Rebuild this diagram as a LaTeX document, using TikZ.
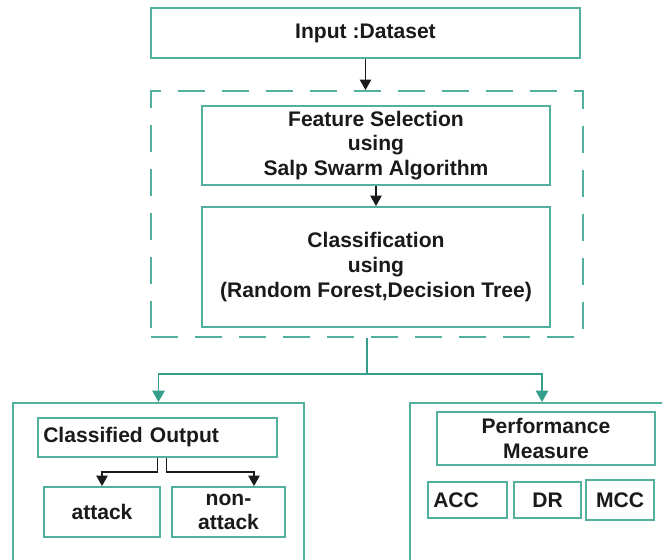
\documentclass[tikz,border=0pt]{standalone}
\usepackage{fontspec}
\setmainfont{Liberation Sans}
\usetikzlibrary{arrows.meta}

\definecolor{boxteal}{RGB}{84,176,158}
\definecolor{arrowteal}{RGB}{52,160,140}
\definecolor{inkgray}{RGB}{26,26,26}

\tikzset{
	box/.style={draw=boxteal, line width=1.1pt, inner sep=3pt,
		align=center, text=inkgray,
		font=\fontsize{12}{14}\selectfont\bfseries},
	groupbox/.style={draw=boxteal, line width=1.1pt,
		dash pattern=on 0.54cm off 0.34cm},
	blackarrow/.style={draw=inkgray, line width=0.9pt,
		-{Triangle[length=6pt,width=6.5pt]}},
	tealline/.style={draw=arrowteal, line width=1.1pt},
	tealarrow/.style={tealline, -{Triangle[length=6.5pt,width=7pt]}}
}

\begin{document}
\begin{tikzpicture}[x=0.02cm, y=-0.02cm]
		
		\clip (0,0) rectangle (662,559);
		
		% Input
		\node [box,
		minimum width=8.58cm,
		minimum height=1cm] (input) at (365.5,33) {Input :Dataset};
		
		% Dashed group
		\node [groupbox,
		minimum width=8.64cm,
		minimum height=4.92cm] (group) at (367,214) {};
		
		\node [box,
		minimum width=6.96cm,
		minimum height=1.5cm] (select) at (376,145.5) {Feature Selection\\using\\Salp Swarm Algorithm};
		
		\node [box,
		minimum width=6.96cm,
		minimum height=2.4cm] (classify) at (376,267) {Classification\\using\\(Random Forest,Decision Tree)};
		
		\draw [blackarrow] (input.south) -- (input.south |- group.north);
		
		\draw [blackarrow] (select.south) -- (classify.north);
		
		% Output side
		\node [box,
		minimum width=5.82cm,
		minimum height=3.74cm] (outleft) at (158.5,496.5) {};
		
		\node [box,
		minimum width=5.28cm,
		minimum height=3.74cm] (outright) at (542,496.5) {};
		
		\coordinate (fork) at ([yshift=-0.72cm]group.south);
		
		\draw [tealline] (group.south) -- (fork);
		\draw [tealarrow] (fork) -| (outleft.north);
		\draw [tealarrow] (fork) -| (outright.north);
		
		% Classified output
		\node [box,
		text width=4.57cm,
		align=left,
		minimum height=0.78cm] (classout) at (157.5,437.5) {Classified Output};
		
		\node [box,
		minimum width=2.32cm,
		minimum height=1cm] (attack) at (102,512) {attack};
		
		\node [box,
		minimum width=2.26cm,
		minimum height=1cm] (nonattack) at (228.5,512) {non-\\attack};
		
		\draw [blackarrow] (classout.south) -- ++(0,14) -| (attack.north);
		\draw [blackarrow] ([xshift=0.18cm]classout.south) -- ++(0,14) -| ([xshift=0.51cm]nonattack.north);
		
		% Performance measure
		\node [box,
		minimum width=4.36cm,
		minimum height=1.06cm] (perf) at (546,438.5) {Performance\\Measure};
		
		\node [box,
		text width=1.37cm,
		align=left,
		minimum height=0.72cm] (acc) at (467.5,500) {ACC};
		
		\node [box,
		minimum width=1.34cm,
		minimum height=0.72cm] (dr) at (547.5,500) {DR};
		
		\node [box,
		line width=1.6pt,
		minimum width=1.36cm,
		minimum height=0.8cm] (mcc) at (620,500) {MCC};
		
	\end{tikzpicture}
\end{document}
